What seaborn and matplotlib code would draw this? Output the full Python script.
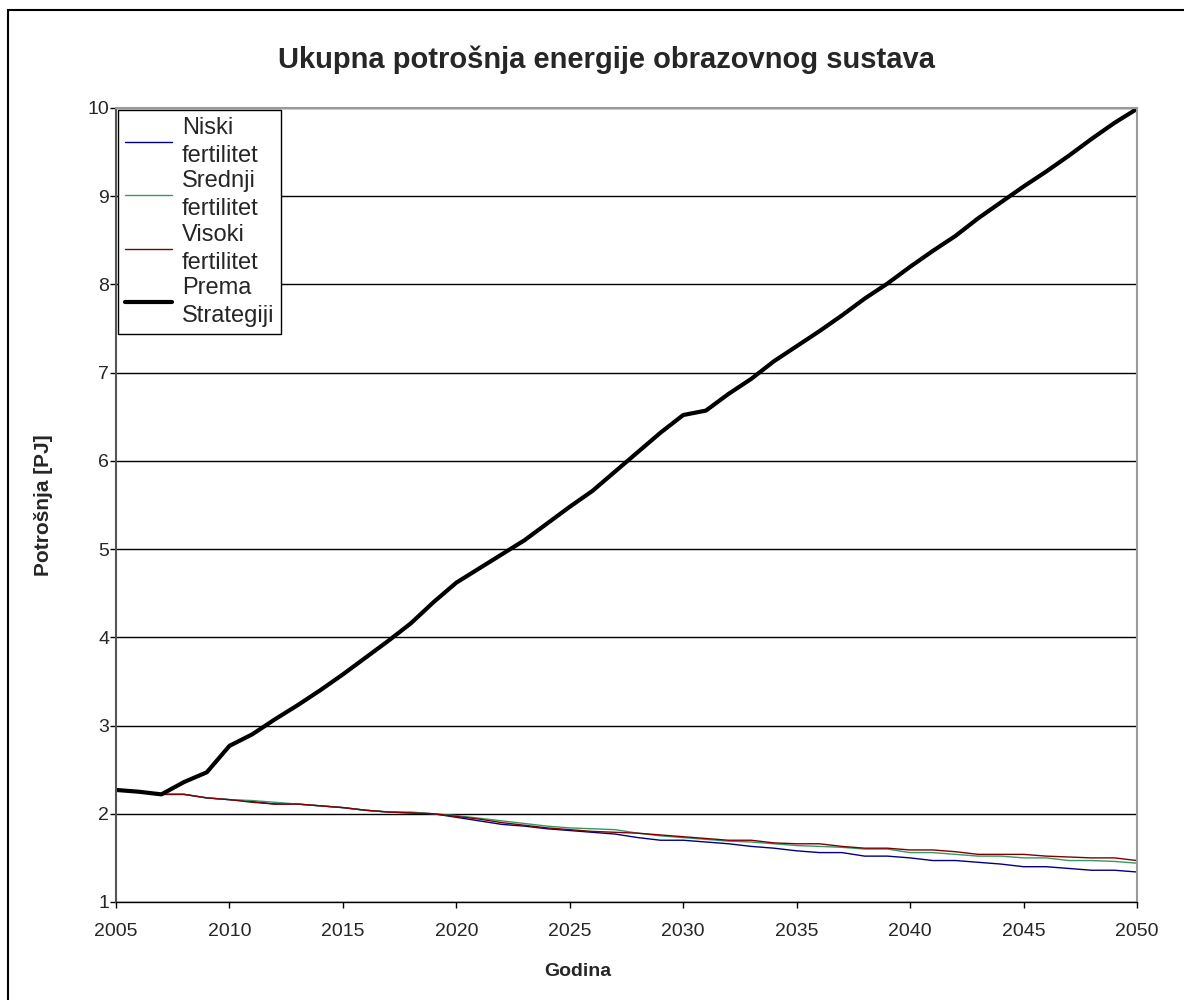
import pandas as pd
import matplotlib.pyplot as plt
import seaborn as sns
from matplotlib.patches import Rectangle

# Data
years = list(range(2005, 2051))

niski = [2.27, 2.25, 2.22, 2.22, 2.18, 2.16, 2.14, 2.11, 2.11, 2.09,
         2.07, 2.04, 2.02, 2.01, 2.00, 1.96, 1.92, 1.88, 1.86, 1.83,
         1.81, 1.79, 1.77, 1.73, 1.70, 1.70, 1.68, 1.66, 1.63, 1.61,
         1.58, 1.56, 1.56, 1.52, 1.52, 1.50, 1.47, 1.47, 1.45, 1.43,
         1.40, 1.40, 1.38, 1.36, 1.36, 1.34]

srednji = [2.27, 2.25, 2.22, 2.22, 2.18, 2.16, 2.15, 2.13, 2.11, 2.09,
           2.07, 2.04, 2.02, 2.02, 2.00, 1.98, 1.95, 1.92, 1.89, 1.86,
           1.84, 1.83, 1.82, 1.78, 1.75, 1.73, 1.71, 1.69, 1.68, 1.66,
           1.64, 1.63, 1.62, 1.60, 1.60, 1.56, 1.56, 1.54, 1.52, 1.52,
           1.50, 1.50, 1.47, 1.47, 1.46, 1.44]

visoki = [2.27, 2.25, 2.22, 2.22, 2.18, 2.16, 2.13, 2.11, 2.11, 2.09,
          2.07, 2.04, 2.02, 2.01, 2.00, 1.97, 1.94, 1.90, 1.87, 1.84,
          1.82, 1.80, 1.79, 1.78, 1.76, 1.74, 1.72, 1.70, 1.70, 1.67,
          1.66, 1.66, 1.63, 1.61, 1.61, 1.59, 1.59, 1.57, 1.54, 1.54,
          1.54, 1.52, 1.51, 1.50, 1.50, 1.47]

strategija = [2.27, 2.25, 2.22, 2.36, 2.47, 2.77, 2.90, 3.07, 3.23, 3.40,
              3.58, 3.77, 3.96, 4.16, 4.40, 4.62, 4.78, 4.94, 5.10, 5.29,
              5.48, 5.66, 5.88, 6.10, 6.32, 6.52, 6.57, 6.76, 6.93, 7.13,
              7.30, 7.47, 7.65, 7.84, 8.01, 8.20, 8.38, 8.55, 8.75, 8.93,
              9.11, 9.28, 9.46, 9.65, 9.83, 9.99]

series_names = ['Niski\nfertilitet', 'Srednji\nfertilitet',
                'Visoki\nfertilitet', 'Prema\nStrategiji']
colors = ['#000080', '#339966', '#800000', '#000000']
widths = [1, 1, 1, 3]

df = pd.DataFrame({'Godina': years,
                   series_names[0]: niski,
                   series_names[1]: srednji,
                   series_names[2]: visoki,
                   series_names[3]: strategija})
long_df = df.melt(id_vars='Godina', var_name='Serija', value_name='Potrosnja')

sns.set_style('white')
plt.rcParams['font.family'] = ['Liberation Sans', 'DejaVu Sans']

fig = plt.figure(figsize=(11.84, 10), dpi=100)
ax = fig.add_axes([0.098, 0.098, 0.8623, 0.794])

for name, col, lw in zip(series_names, colors, widths):
    sns.lineplot(data=long_df[long_df['Serija'] == name], x='Godina',
                 y='Potrosnja', color=col, linewidth=lw, label=name, ax=ax)

ax.set_xlim(2005, 2050)
ax.set_ylim(1, 10)
ax.set_xticks(range(2005, 2051, 5))
ax.set_yticks(range(1, 11))
ax.yaxis.grid(True, color='black', linewidth=1)
ax.xaxis.grid(False)
ax.set_axisbelow(True)
ax.tick_params(axis='both', labelsize=14, direction='out', length=4,
               width=1, color='black', left=True, bottom=True)
ax.tick_params(axis='x', pad=11)
ax.tick_params(axis='y', pad=1)
for side in ['top', 'right']:
    ax.spines[side].set_color('#9a9a9a')
    ax.spines[side].set_linewidth(1.5)
ax.spines['left'].set_color('#555555')
ax.spines['left'].set_linewidth(1.5)
ax.spines['bottom'].set_color('black')
ax.spines['bottom'].set_linewidth(1)

ax.set_xlabel('Godina', fontsize=14, fontweight='bold')
ax.xaxis.set_label_coords(0.4525, -0.077)
ax.set_ylabel('Potrošnja [PJ]', fontsize=15, fontweight='bold')
ax.yaxis.set_label_coords(-0.062, 0.5)
fig.suptitle('Ukupna potrošnja energije obrazovnog sustava', fontsize=21,
             fontweight='bold', x=0.512, y=0.954)

leg = ax.legend(loc='upper left', bbox_to_anchor=(0.002, 0.998),
                fontsize=17, frameon=True, fancybox=False, borderpad=0.3,
                labelspacing=0.15, handlelength=2.0, handletextpad=0.4,
                borderaxespad=0)
leg.get_frame().set_edgecolor('black')
leg.get_frame().set_linewidth(1)
leg.get_frame().set_alpha(1)
for t in leg.get_texts():
    t.set_linespacing(1.35)

# outer chart border
fig.patches.append(Rectangle((0.007, -0.01), 1.1, 1.0, transform=fig.transFigure,
                             fill=False, edgecolor='black', linewidth=1.5))

fig.savefig('out.png', dpi=100)
